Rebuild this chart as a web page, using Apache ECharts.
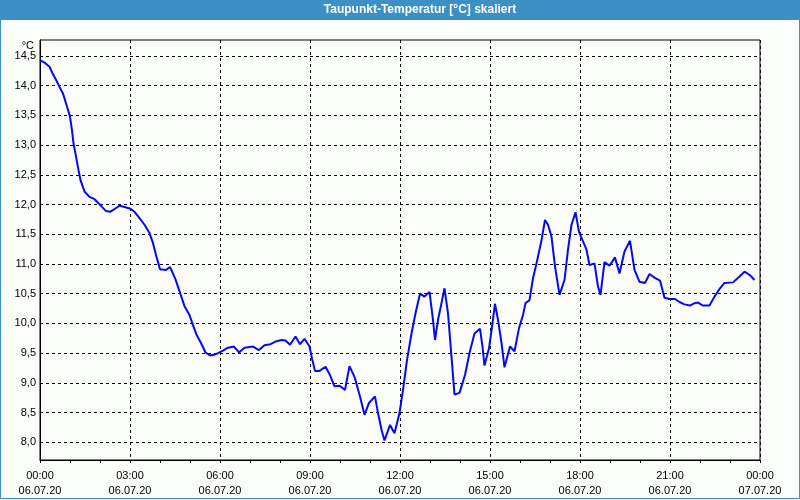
<!DOCTYPE html>
<html>
<head>
<meta charset="utf-8">
<script src="https://cdn.jsdelivr.net/npm/echarts@6/dist/echarts.min.js"></script>
<style>
html,body{margin:0;padding:0;background:#fbfdfb;}
#chart{width:800px;height:500px;}
</style>
</head>
<body>
<div id="chart"></div>
<script>
// Minutes since 06.07.20 00:00
const times = [0,9,19,25,32,39,46,50,55,60,64,67,72,77,81,89,99,109,115,124,132,141,150,159,169,181,190,199,209,219,226,232,240,252,260,271,289,299,306,313,322,331,340,348,356,366,376,388,398,409,426,438,449,461,473,483,491,500,511,520,529,539,544,550,559,571,580,589,599,610,619,629,640,649,658,670,676,683,689,700,709,719,726,734,743,751,760,769,779,786,790,796,803,809,816,823,829,839,850,859,869,880,885,889,898,904,910,916,923,929,940,949,958,966,971,979,986,993,1003,1010,1016,1023,1030,1039,1049,1056,1063,1071,1078,1086,1093,1099,1109,1116,1121,1129,1139,1150,1159,1169,1180,1189,1199,1210,1219,1229,1240,1249,1259,1270,1279,1289,1300,1309,1316,1326,1339,1349,1360,1369,1386,1399,1409,1420,1429];
// Dew point temperature [°C]
const dewPoint = [14.43,14.39,14.32,14.21,14.10,13.98,13.87,13.76,13.62,13.48,13.25,13.03,12.81,12.58,12.41,12.22,12.13,12.09,12.04,11.96,11.89,11.88,11.93,11.98,11.96,11.93,11.87,11.77,11.66,11.52,11.35,11.15,10.91,10.90,10.95,10.74,10.29,10.14,9.97,9.81,9.67,9.51,9.46,9.47,9.50,9.54,9.59,9.61,9.51,9.59,9.61,9.55,9.63,9.65,9.70,9.72,9.71,9.64,9.78,9.65,9.74,9.61,9.41,9.20,9.20,9.27,9.13,8.94,8.95,8.88,9.28,9.10,8.77,8.46,8.66,8.77,8.49,8.21,8.03,8.29,8.15,8.49,8.88,9.38,9.83,10.17,10.50,10.45,10.53,10.06,9.72,10.06,10.34,10.59,10.17,9.44,8.80,8.83,9.13,9.50,9.83,9.91,9.61,9.29,9.58,9.94,10.33,10.06,9.67,9.26,9.61,9.53,9.92,10.14,10.34,10.39,10.76,11.01,11.40,11.74,11.66,11.46,10.96,10.48,10.73,11.24,11.66,11.87,11.54,11.38,11.24,10.98,11.01,10.62,10.48,11.03,10.97,11.11,10.84,11.21,11.39,10.90,10.70,10.68,10.83,10.77,10.72,10.43,10.41,10.41,10.36,10.32,10.30,10.34,10.35,10.30,10.30,10.45,10.59,10.68,10.69,10.79,10.87,10.81,10.73];
const yTicks = [8.0,8.5,9.0,9.5,10.0,10.5,11.0,11.5,12.0,12.5,13.0,13.5,14.0,14.5];
const xTickLabels = ['00:00\n06.07.20','03:00\n06.07.20','06:00\n06.07.20','09:00\n06.07.20','12:00\n06.07.20','15:00\n06.07.20','18:00\n06.07.20','21:00\n06.07.20','00:00\n07.07.20'];
const titleText = 'Taupunkt-Temperatur [°C] skaliert';
const unitText = '°C';

const chart = echarts.init(document.getElementById('chart'), null, {renderer:'canvas'});
const FONT = 'Liberation Sans';
const option = {
  backgroundColor: '#fbfdfb',
  animation: false,
  grid: {left: 40, right: 40, top: 40, bottom: 40, show: true, borderColor: '#000', borderWidth: 1, backgroundColor: 'transparent', containLabel: false, outerBoundsMode: 'none'},
  graphic: [
    {type: 'rect', left: 0, top: 0, shape: {x: 0, y: 0, width: 800, height: 20}, style: {fill: '#3d90c5'}, silent: true, z: 0},
    {type: 'rect', shape: {x: 0.5, y: 0.5, width: 799, height: 498}, style: {fill: 'none', stroke: '#3d90c5', lineWidth: 1}, silent: true, z: 0},
    {type: 'text', x: 420, y: 10, style: {text: titleText, fill: '#ffffff', font: 'bold 12px "Liberation Sans"', align: 'center', verticalAlign: 'middle'}, z: 10},
    {type: 'text', x: 34, y: 46, style: {text: unitText, fill: '#000', font: '11px "Liberation Sans"', align: 'right', verticalAlign: 'middle'}, z: 10}
  ],
  xAxis: {
    type: 'value', min: 0, max: 1440, interval: 180,
    axisLine: {show: true, lineStyle: {color: '#000', width: 1}},
    axisTick: {show: true, length: 3, lineStyle: {color: '#000'}},
    minorTick: {show: true, splitNumber: 3, length: 3, lineStyle: {color: '#000'}},
    splitLine: {show: true, lineStyle: {color: '#000', type: [3, 3], width: 1}},
    axisLabel: {
      color: '#000', fontFamily: FONT, fontSize: 11, lineHeight: 15, margin: 8,
      showMinLabel: true, showMaxLabel: true,
      formatter: function (v) { return xTickLabels[Math.round(v / 180)] || ''; }
    }
  },
  yAxis: {
    type: 'value', min: 7.70, max: 14.77,
    axisLine: {show: true, lineStyle: {color: '#000', width: 1}},
    axisTick: {show: false, customValues: yTicks},
    splitLine: {show: true, lineStyle: {color: '#000', type: [3, 3], width: 1}},
    axisLabel: {
      customValues: yTicks, color: '#000', fontFamily: FONT, fontSize: 11, margin: 4,
      padding: [3, 0, 0, 0],
      formatter: function (v) { return v.toFixed(1).replace('.', ','); }
    }
  },
  series: [{
    type: 'line', showSymbol: false, symbol: 'none',
    data: times.map((t, i) => [t, dewPoint[i]]),
    lineStyle: {color: '#0808ee', width: 2},
    z: 5
  }]
};
chart.setOption(option);
</script>
</body>
</html>
